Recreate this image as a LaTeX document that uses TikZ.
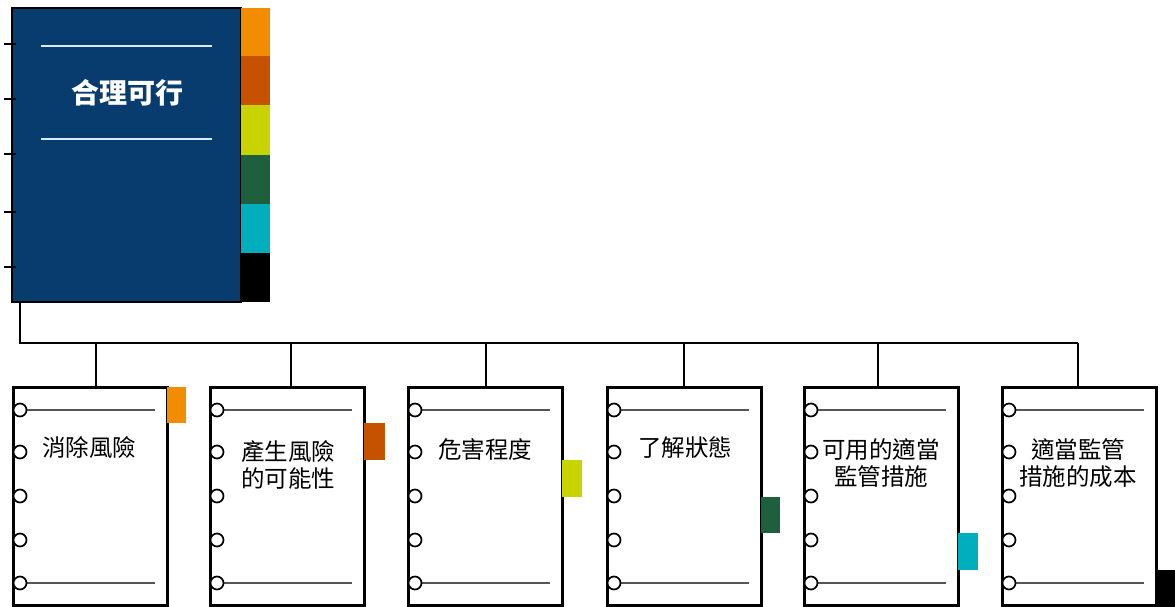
\documentclass[tikz,border=0pt]{standalone}
\usepackage{fontspec}
\newfontfamily\cjk{Noto Sans CJK TC}
\definecolor{navy}{RGB}{9,60,110}
\definecolor{tabA}{RGB}{242,140,0}
\definecolor{tabB}{RGB}{198,82,0}
\definecolor{tabC}{RGB}{200,212,0}
\definecolor{tabD}{RGB}{30,95,62}
\definecolor{tabE}{RGB}{0,174,190}
\definecolor{tabF}{RGB}{0,0,0}
\definecolor{hline}{RGB}{215,236,248}
\definecolor{rulegray}{RGB}{85,85,85}
\tikzset{
  topbox/.style={draw=black, line width=2.2pt, fill=navy, minimum width=229pt, minimum height=294pt, anchor=north west, inner sep=0pt, outer sep=0pt},
  pagebox/.style={draw=black, line width=3pt, fill=white, minimum width=154pt, minimum height=218pt, anchor=north west, inner sep=0pt, outer sep=0pt},
  conn/.style={draw=black, line width=2.5pt},
  ring/.style={draw=black, line width=1.7pt, fill=white},
  pagerule/.style={draw=rulegray, line width=1.8pt},
  tick/.style={draw=black, line width=2.6pt},
  whiteline/.style={draw=hline, line width=2.6pt},
  lbl/.style={font=\cjk\fontsize{23.5}{27}\selectfont, align=center, text=black, inner sep=0pt},
  title/.style={font=\cjk\bfseries\fontsize{28}{32}\selectfont, text=white, inner sep=0pt}
}
\begin{document}
\begin{tikzpicture}[x=1pt,y=-1pt]
\useasboundingbox (0,0) rectangle (1175,607);
% top binder
\node[topbox] (top) at (12,8) {};
\fill[tabA] (241,8) rectangle (270,56);
\fill[tabB] (241,56) rectangle (270,105);
\fill[tabC] (241,105) rectangle (270,155);
\fill[tabD] (241,155) rectangle (270,204);
\fill[tabE] (241,204) rectangle (270,253);
\fill[tabF] (241,253) rectangle (270,302);
\foreach \y in {44,99,154,212,267} \draw[tick] (4,\y) -- (16,\y);
\draw[whiteline] (41,46) -- (212,46);
\draw[whiteline] (41,139) -- (212,139);
\node[title] (ttl) at (127,93) {合理可行};
% connectors
\coordinate (bus0) at (20,343);
\coordinate (d1) at (96,343);
\coordinate (d2) at (291,343);
\coordinate (d3) at (486,343);
\coordinate (d4) at (684,343);
\coordinate (d5) at (878,343);
\coordinate (d6) at (1078,343);
% pages
\node[pagebox] (b1) at (13,387) {};
\node[pagebox] (b2) at (210,387) {};
\node[pagebox] (b3) at (408,387) {};
\node[pagebox] (b4) at (607,387) {};
\node[pagebox] (b5) at (804,387) {};
\node[pagebox] (b6) at (1002,387) {};
\draw[conn] (top.south -| bus0) -- (bus0) -- (d6);
\foreach \i in {1,...,6} \draw[conn] (d\i) -- (d\i |- b\i.north);
% tabs on pages
\fill[tabA] (167,387) rectangle (186,423);
\fill[tabB] (364,423) rectangle (385,460);
\fill[tabC] (562,460) rectangle (582,497);
\fill[tabD] (761,497) rectangle (780,533);
\fill[tabE] (958,533) rectangle (978,570);
\fill[tabF] (1156,570) rectangle (1175,607);
% rings and rules
\foreach \i in {1,...,6} {
  \draw[pagerule] ([xshift=12pt,yshift=-23pt]b\i.north west) -- ([xshift=142pt,yshift=-23pt]b\i.north west);
  \draw[pagerule] ([xshift=12pt,yshift=-196pt]b\i.north west) -- ([xshift=142pt,yshift=-196pt]b\i.north west);
  \foreach \dy in {23,65,109,153,196}
    \draw[ring] ([xshift=7pt,yshift=-\dy pt]b\i.north west) circle[radius=6.5pt];
}
% labels
\node[lbl] (t1) at (89,448) {消除風險};
\node[lbl] (t2) at (288,465) {產生風險\\的可能性};
\node[lbl] (t3) at (485,450) {危害程度};
\node[lbl] (t4) at (685,448) {了解狀態};
\node[lbl] (t5) at (881,463) {可用的適當\\監管措施};
\node[lbl] (t6) at (1078,463) {適當監管\\措施的成本};
\end{tikzpicture}
\end{document}
